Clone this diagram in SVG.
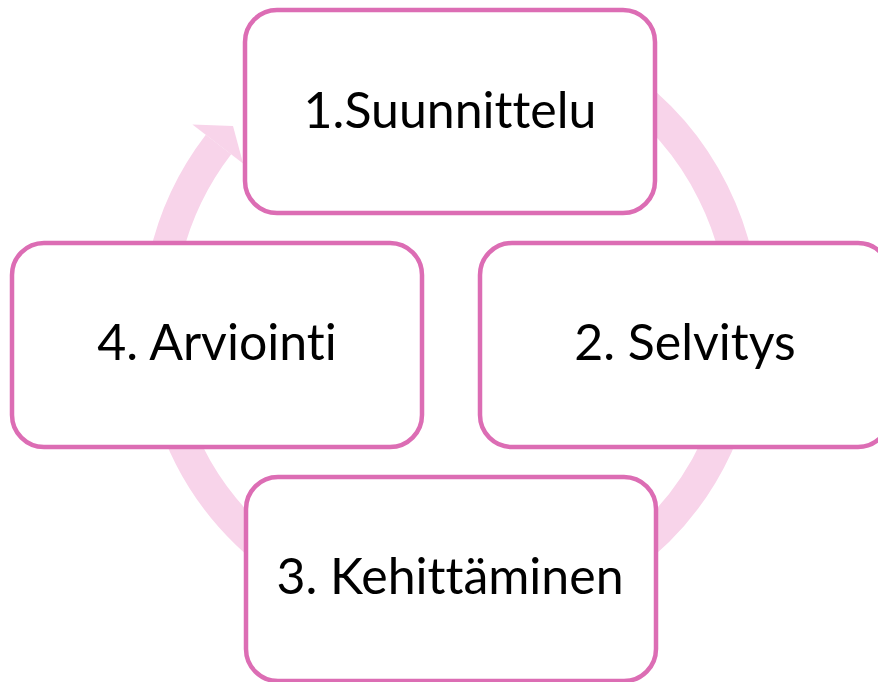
<svg xmlns="http://www.w3.org/2000/svg" width="878" height="682" viewBox="0 0 878 682">
<style>
.box{fill:#ffffff;stroke:#DC6DB4;stroke-width:4.5}
.lbl{font-family:Lato,"Open Sans","Liberation Sans",sans-serif;font-size:50px;fill:#000000;text-anchor:middle;font-variant-ligatures:none;font-feature-settings:"liga" 0,"clig" 0}
.ring{fill:none;stroke:#F8D4EA;stroke-width:32}
.head{fill:#F8D4EA}
</style>
<rect width="878" height="682" fill="#ffffff"/>
<g id="connectors">
<path class="ring" d="M 350.8 47.7 A 293 293 0 1 1 218.5 144.6"/>
<polygon class="head" points="192.4,124.5 233,126 243.1,163.5"/>
</g>
<g id="node1">
<rect class="box" x="245" y="10" width="410" height="203" rx="32"/>
<text class="lbl" x="450" y="128">1.Suunnittelu</text>
</g>
<g id="node2">
<rect class="box" x="480" y="243" width="410" height="204" rx="32"/>
<text class="lbl" x="685" y="360">2. Selvitys</text>
</g>
<g id="node3">
<rect class="box" x="246" y="477" width="410" height="204" rx="32"/>
<text class="lbl" x="450" y="594">3. Kehittäminen</text>
</g>
<g id="node4">
<rect class="box" x="12" y="243" width="410" height="204" rx="32"/>
<text class="lbl" x="217" y="360">4. Arviointi</text>
</g>
</svg>
